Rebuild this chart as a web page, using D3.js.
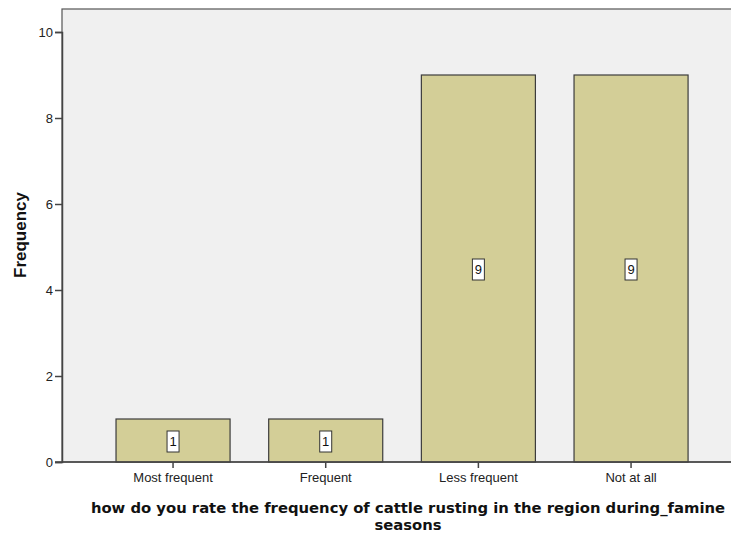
<!DOCTYPE html>
<html><head><meta charset="utf-8">
<script src="https://cdn.jsdelivr.net/npm/d3@7"></script>
<style>body{margin:0;background:#fff}svg{display:block}</style>
</head><body>
<svg id="c" width="731" height="535"></svg>
<script>
const categories = ["Most frequent", "Frequent", "Less frequent", "Not at all"];
const frequencies = [1, 1, 9, 9];
const yTicks = [0, 2, 4, 6, 8, 10];
const xTitleLines = ["how do you rate the frequency of cattle rusting in the region during_famine", "seasons"];
const yTitle = "Frequency";

const svg = d3.select("#c");
const L = 62, T = 9, R = 731, B = 462;
const y = d3.scaleLinear().domain([0, 10]).range([B, 32]);
const x = d3.scaleBand().domain(categories).range([77.4, 726.7]).padding(0.253);
const sans = "Liberation Sans, Arial, sans-serif";

svg.append("rect").attr("x", L).attr("y", T).attr("width", R - L + 2).attr("height", B - T)
  .attr("fill", "#f0f0f0").attr("stroke", "#555").attr("stroke-width", 1.2);

// bars
svg.selectAll(".bar").data(frequencies).join("rect")
  .attr("x", (d, i) => x(categories[i]))
  .attr("y", d => y(d))
  .attr("width", x.bandwidth())
  .attr("height", d => B - y(d))
  .attr("fill", "#d3ce97").attr("stroke", "#3c3c3c").attr("stroke-width", 1.2);

// labels
const lab = svg.selectAll(".lab").data(frequencies).join("g")
  .attr("transform", (d, i) => `translate(${x(categories[i]) + x.bandwidth() / 2},${y(d / 2) + 1})`);
lab.append("rect").attr("x", -6).attr("y", -10.5).attr("width", 12).attr("height", 21)
  .attr("fill", "#fff").attr("stroke", "#333").attr("stroke-width", 1);
lab.append("text").text(d => d).attr("text-anchor", "middle").attr("dy", "0.36em")
  .attr("font-family", sans).attr("font-size", 13).attr("fill", "#111");

// y axis
const yAxis = svg.append("g").attr("transform", `translate(${L},0)`)
  .call(d3.axisLeft(y).tickValues(yTicks).tickSize(7).tickPadding(2).tickFormat(d3.format("d")));
yAxis.select(".domain").attr("stroke", "#444").attr("stroke-width", 1.5);
yAxis.selectAll(".tick line").attr("stroke", "#444").attr("stroke-width", 1.5);
yAxis.selectAll("text").attr("font-family", sans).attr("font-size", 13).attr("fill", "#222");

// x axis
const xAxis = svg.append("g").attr("transform", `translate(0,${B})`)
  .call(d3.axisBottom(x).tickSize(6).tickPadding(5));
xAxis.select(".domain").remove();
xAxis.append("line").attr("x1", 55).attr("x2", R).attr("y1", 0).attr("y2", 0).attr("stroke", "#444").attr("stroke-width", 1.5);
xAxis.selectAll(".tick line").attr("stroke", "#444").attr("stroke-width", 1.5);
xAxis.selectAll("text").attr("font-family", sans).attr("font-size", 13).attr("fill", "#222");

// titles
svg.append("text").attr("transform", "translate(26,235) rotate(-90)").attr("text-anchor", "middle")
  .attr("font-family", sans).attr("font-weight", "bold").attr("font-size", 17)
  .attr("fill", "#111").text(yTitle);
svg.append("text").attr("text-anchor", "middle")
  .attr("font-family", "DejaVu Sans, Verdana, sans-serif").attr("font-weight", "bold").attr("font-size", 14.8)
  .attr("fill", "#111")
  .selectAll("tspan").data(xTitleLines).join("tspan")
  .attr("x", 408).attr("y", (d, i) => 513 + i * 17).text(d => d);
</script>
</body></html>
